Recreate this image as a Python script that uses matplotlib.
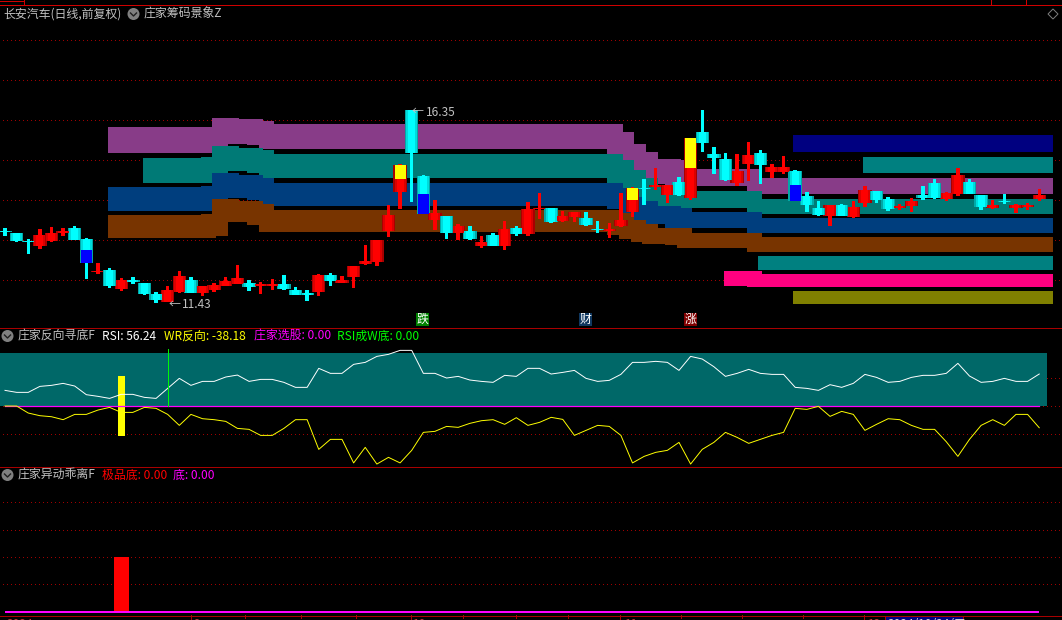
import numpy as np
import matplotlib
matplotlib.use('Agg')
import matplotlib.pyplot as plt
from matplotlib.patches import Circle, Rectangle, Polygon

plt.rcParams['font.family'] = ['Noto Sans CJK SC', 'DejaVu Sans']

# daily candles
opens = [13.25,13.20,13.00,12.87,13.00,13.20,13.33,13.05,12.20,12.25,
	11.77,12.00,11.92,11.64,11.43,11.69,12.00,11.66,11.74,11.84,
	11.90,11.92,11.84,11.84,11.90,11.74,11.66,11.69,12.13,11.92,
	12.07,12.41,12.46,13.25,14.25,16.35,14.66,13.53,13.64,13.20,
	13.25,12.87,13.15,12.87,13.33,13.18,13.82,13.84,13.51,13.61,
	13.59,13.30,13.25,13.38,13.74,14.35,14.38,14.17,14.51,14.10,
	15.79,15.22,15.10,14.48,14.97,15.25,14.76,14.76,14.79,14.15,
	13.84,13.64,13.92,13.61,13.97,14.28,14.07,13.84,13.89,14.17,
	14.48,14.07,14.20,14.51,14.17,13.84,14.02,13.84,13.87,14.07]
closes = [13.23,13.00,12.97,13.15,13.20,13.25,13.02,12.43,12.23,11.84,
	12.00,11.95,11.64,11.49,11.74,12.10,11.66,11.84,11.87,11.97,
	12.05,11.82,11.90,11.90,11.77,11.61,11.61,12.13,11.97,12.00,
	12.36,12.48,13.02,13.66,14.94,15.25,13.69,13.71,13.20,13.38,
	13.05,12.97,12.87,13.30,13.18,13.82,13.84,13.48,13.64,13.74,
	13.41,13.28,13.30,13.53,14.35,14.33,14.43,14.43,14.17,15.63,
	15.51,15.12,14.56,14.79,15.20,14.94,14.89,14.89,14.02,13.92,
	13.66,13.92,13.64,13.87,14.30,14.05,13.82,13.89,14.02,14.10,
	14.10,14.23,14.69,14.20,13.87,13.92,13.99,13.92,13.92,14.17]
highs = [13.33,13.20,13.05,13.30,13.36,13.33,13.38,13.07,12.43,12.31,
	12.05,12.07,11.92,11.69,11.84,12.23,12.07,11.84,11.92,12.07,
	12.38,12.00,11.95,12.02,12.13,11.82,11.74,12.15,12.18,12.10,
	12.36,12.89,13.02,13.92,14.97,16.35,14.69,14.05,13.64,13.43,
	13.38,13.12,13.20,13.51,13.38,13.99,14.23,13.84,13.77,13.74,
	13.74,13.51,13.46,14.23,14.38,14.58,14.87,14.43,14.64,15.63,
	16.35,15.40,15.25,15.22,15.53,15.33,14.97,15.17,14.81,14.25,
	14.02,13.92,13.94,14.02,14.40,14.28,14.12,13.94,14.10,14.40,
	14.58,14.25,14.87,14.58,14.17,14.05,14.20,13.94,13.97,14.33]
lows = [13.12,12.97,12.66,12.79,12.97,13.12,13.02,12.02,12.15,11.79,
	11.72,11.90,11.61,11.41,11.43,11.66,11.66,11.59,11.69,11.84,
	11.90,11.72,11.64,11.74,11.74,11.61,11.46,11.59,11.84,11.92,
	11.79,12.38,12.36,13.10,13.82,13.99,13.69,13.28,13.05,13.02,
	13.02,12.82,12.87,12.77,13.12,13.12,13.56,13.46,13.48,13.48,
	13.38,13.20,13.07,13.36,13.61,13.92,14.30,13.97,14.15,14.05,
	15.28,14.71,14.53,14.40,14.53,14.46,14.61,14.71,14.02,13.74,
	13.64,13.38,13.64,13.59,13.87,13.97,13.77,13.79,13.74,14.05,
	14.07,14.02,14.15,14.20,13.79,13.82,13.94,13.71,13.79,14.02]

# coloured part inside a few of the bodies
blue_idx = [7, 36, 68]
blue_top = [12.77, 14.20, 14.43]
blue_bot = [12.43, 13.69, 14.02]
gold_idx = [34, 54, 59]
gold_top = [14.94, 14.35, 15.63]
gold_bot = [14.58, 14.05, 14.87]

nan = np.nan
# chip bands, one level per candle
purple_top = [nan]*10 + [15.91]*9 + [16.15,16.12,16.12,16.07] + [15.99]*30 + [15.79,15.48,15.28,15.10,15.10,15.07] + [14.84]*6 + [14.61]*25
purple_bot = [nan]*10 + [15.25]*9 + [15.51,15.48,15.48,15.45] + [15.35]*30 + [15.12,14.81,14.61,14.46,14.46,14.40] + [14.40]*6 + [14.20]*25
teal_top = [nan]*13 + [15.12]*5 + [15.15,15.43,15.38,15.38,15.33] + [15.22]*30 + [15.07,14.81,14.61,14.40,14.40,14.28] + [14.28]*6 + [14.07]*25
teal_bot = [nan]*13 + [14.48]*6 + [14.81,14.79,14.79,14.74] + [14.61]*30 + [14.48,14.12,14.02,13.89,13.89,13.84] + [13.84]*6 + [13.69]*25
blue_band_top = [nan]*10 + [14.38]*8 + [14.40,14.74,14.69,14.69,14.61] + [14.48]*30 + [14.35,14.12,14.02,13.89,13.89,13.84] + [13.74]*6 + [13.59]*25
blue_band_bot = [nan]*10 + [13.77]*9 + [14.12,14.10,14.10,14.05] + [13.89]*30 + [13.82,13.53,13.46,13.43,13.43,13.33] + [13.33]*6 + [13.20]*25
brown_top = [nan]*10 + [13.66]*8 + [13.69,14.07,14.02,14.02,13.94] + [13.79]*30 + [13.71,13.53,13.43,13.33,13.33,13.33] + [13.20]*6 + [13.10]*25
brown_bot = [nan]*10 + [13.07]*8 + [13.12,13.48,13.48,13.48,13.41] + [13.23]*30 + [13.15,13.05,12.97,12.92,12.92,12.89] + [12.82]*6 + [12.72]*25

# the flat bands on the right
navy_top = [nan]*69 + [15.71]*21
navy_bot = [nan]*69 + [15.28]*21
cyan2_top = [nan]*75 + [15.15]*15
cyan2_bot = [nan]*75 + [14.74]*15
cyan3_top = [nan]*66 + [12.61]*24
cyan3_bot = [nan]*66 + [12.25]*24
pink_top = [nan]*63 + [12.23]*2 + [12.15]*25
pink_bot = [nan]*63 + [11.84]*2 + [11.82]*25
olive_top = [nan]*69 + [11.72]*21
olive_bot = [nan]*69 + [11.38]*21

price_grid = [18.14, 17.12, 16.09, 15.07, 14.05, 13.02, 12.00]

rsi = [27.5,24.0,24.0,34.5,36.3,39.8,35.1,19.9,17.0,13.4,
	20.5,20.5,15.2,13.4,31.0,48.6,36.3,43.3,43.3,51.0,
	54.4,43.3,46.8,46.8,41.6,32.8,32.8,66.2,57.4,57.4,
	73.2,76.7,87.2,90.8,97.8,97.8,57.4,57.4,49.2,52.1,
	45.7,43.3,41.6,53.9,52.1,66.2,66.2,56.2,59.1,62.6,
	48.6,43.3,45.1,55.6,76.7,76.7,78.5,76.7,62.6,87.2,
	82.6,69.1,52.1,57.4,64.4,57.4,55.6,55.6,32.8,31.0,
	27.5,37.5,32.8,39.8,55.6,50.3,41.6,43.3,50.3,53.9,
	53.9,57.4,75.0,52.7,41.6,43.3,48.6,43.3,43.3,56.24]
wr = [0,0,-12.3,-17.0,-18.8,-24.0,-14.7,-14.7,-7.1,-2.4,
	-11.2,-11.2,-2.4,-4.1,-14.7,-34.0,-14.7,-22.3,-24.0,-27.0,
	-39.3,-41.0,-51.6,-51.6,-39.3,-24.0,-24.0,-76.2,-58.6,-58.6,
	-100,-72.6,-102,-90.2,-100,-77.9,-46.3,-44.5,-35.8,-37.5,
	-30.5,-25.8,-24.0,-32.2,-20.5,-34.0,-28.7,-19.9,-23.5,-51.6,
	-42.8,-34.0,-35.8,-51.6,-100,-88.5,-81.4,-77.9,-63.9,-102,
	-76.2,-63.9,-46.3,-55.1,-65.6,-58.6,-51.6,-46.3,-4.1,-5.9,
	-0.6,-18.2,-9.4,-14.7,-42.8,-32.2,-22.3,-24.0,-34.0,-41.0,
	-41.0,-62.7,-88.5,-58.6,-34.0,-24.0,-34.0,-14.7,-14.7,-38.18]
zone_top = 93
rsi_grid = [50, 0, -50]
rsi_pick_idx = 10
rsi_pick_level = 52.7
green_idx = 14
green_top = 101

dev_bar_idx = 10
dev_bar_value = 1.0
dev_grid = [0.5, 1.0, 1.5, 2.0]

# x pixels of the date axis ticks
major_ticks = [190.6, 411, 620, 864]
minor_ticks = [245, 301, 356, 463, 516, 568, 681, 742, 803]
date_labels = ['2024', '9', '10', '11', '12']
date_label_x = [7, 193, 413, 625, 868]
cursor_date = '2024/10/24/三'

W, H = 1062, 620
GRID = '#a00000'
GREY = '#c0c0c0'
n = len(opens)
x = np.arange(n)
STEP = 11.62  # pixels per candle


def px(w):
	return w / STEP


def add_pane(y0, y1, ylim):
	ax = fig.add_axes([0, 1 - y1 / H, 1, (y1 - y0) / H])
	ax.set_facecolor('black')
	ax.set_xlim(-0.43, 90.96)
	ax.set_ylim(*ylim)
	ax.axis('off')
	return ax


def dotted(ax, levels):
	for v in levels:
		ax.plot([-1, 92], [v, v], color=GRID, lw=0.72, ls=(0, (1, 3)), dash_capstyle='butt', antialiased=False, zorder=1)


def band(ax, top, bot, color, z):
	t, b = np.array(top), np.array(bot)
	ax.bar(x, t - b, bottom=b, width=px(27), color=color, lw=0, zorder=z, antialiased=False)


fig = plt.figure(figsize=(W / 100, H / 100), dpi=100, facecolor='black')

# main pane
ax = add_pane(5, 327, (10.795, 19.038))
dotted(ax, price_grid)
band(ax, purple_top, purple_bot, '#883c88', 2)
band(ax, teal_top, teal_bot, '#007a76', 3)
band(ax, blue_band_top, blue_band_bot, '#003e7e', 4)
band(ax, brown_top, brown_bot, '#783400', 5)
band(ax, navy_top, navy_bot, '#000080', 6)
band(ax, cyan2_top, cyan2_bot, '#008080', 6)
band(ax, cyan3_top, cyan3_bot, '#008080', 6)
band(ax, pink_top, pink_bot, '#ff0080', 6)
band(ax, olive_top, olive_bot, '#808000', 6)

o, c, hi, lo = map(np.array, (opens, closes, highs, lows))
up = c >= o
body_top = np.maximum(o, c)
body_bot = np.minimum(o, c)
shades = {True: ['#a80000', '#dc0000', '#ff0000'], False: ['#00a8a8', '#00dcdc', '#00ffff']}
for flag in (True, False):
	m = up == flag
	ax.bar(x[m], (hi - lo)[m], bottom=lo[m], width=px(3.4), color=shades[flag][2], lw=0, zorder=7, antialiased=False)
	# body is lighter in the middle, 3 layers is close enough to the gradient
	for w, col, z in zip((13.4, 11, 7), shades[flag], (8, 9, 10)):
		ax.bar(x[m], np.maximum((body_top - body_bot)[m], 0.03), bottom=body_bot[m], width=px(w), color=col, lw=0, zorder=z, antialiased=False)
ax.bar(blue_idx, np.array(blue_top) - np.array(blue_bot), bottom=blue_bot, width=px(11), color='#0000ff', lw=0, zorder=11, antialiased=False)
ax.bar(gold_idx, np.array(gold_top) - np.array(gold_bot), bottom=gold_bot, width=px(11), color='#ffff00', lw=0, zorder=11, antialiased=False)

# rsi pane
ax2 = add_pane(328, 466, (-105.4, 137.1))
dotted(ax2, rsi_grid)
ax2.bar(x, [zone_top] * n, width=px(16), color='#006868', lw=0, zorder=2, antialiased=False)
ax2.bar(rsi_pick_idx, 2 * rsi_pick_level, bottom=-rsi_pick_level, width=px(7), color='#ffff00', lw=0, zorder=3, antialiased=False)
ax2.plot(x, [0] * n, color='#ff00ff', lw=0.9, zorder=4)
ax2.plot(x, rsi, color='white', lw=0.7, zorder=5)
ax2.plot(x, wr, color='#ffff00', lw=0.7, zorder=5)
ax2.plot([green_idx, green_idx], [0, green_top], color='#00ff00', lw=0.7, zorder=6)

# deviation pane
ax3 = add_pane(467, 615, (-0.064, 2.65))
dotted(ax3, dev_grid)
dev_values = [0.0] * n
dev_values[dev_bar_idx] = dev_bar_value
ax3.bar(x, dev_values, width=px(15), color='#ff0000', lw=0, zorder=2, antialiased=False)
ax3.plot(x, [0] * n, color='#ff00ff', lw=1.45, solid_capstyle='butt', zorder=3)

# overlay in pixels for borders, headers and badges
ov = fig.add_axes([0, 0, 1, 1], zorder=20)
ov.set_xlim(0, W)
ov.set_ylim(H, 0)
ov.axis('off')
ov.patch.set_alpha(0)

ov.plot([0, W], [4.5, 4.5], color='#d00000', lw=0.72)
ov.plot([0, 23], [0.5, 0.5], color='#d00000', lw=0.72)
for y in (327.5, 466.5, 615.5):
	ov.plot([0, W], [y, y], color='#a80000', lw=0.72)
for tx in (23, 990, 1025, 1061):
	ov.plot([tx + 0.5, tx + 0.5], [0, 4], color='#d00000', lw=0.72)
for tx in major_ticks:
	ov.plot([tx, tx], [615, 620], color='#a80000', lw=0.72)
for tx in minor_ticks:
	ov.plot([tx, tx], [615, 618], color='#a80000', lw=0.72)
for tx, lab in zip(date_label_x, date_labels):
	ov.text(tx, 618.5, lab, color='#c04040', fontsize=8.6, va='top', ha='left', clip_on=True)
ov.add_patch(Rectangle((885, 616), 78, 6, fc='#000080', ec='#a80000', lw=0.72))
ov.text(888, 617.5, cursor_date, color='#e0e0e0', fontsize=8.6, va='top', ha='left', clip_on=True)


def icon(cx, cy):
	ov.add_patch(Circle((cx, cy), 6, fc='#808080', ec='none'))
	ov.plot([cx - 3, cx, cx + 3], [cy - 1, cy + 2, cy - 1], color='#202020', lw=1)


def label(tx, ty, s, col=GREY):
	ov.text(tx, ty, s, color=col, fontsize=8.6, va='center', ha='left')


label(3, 14, '长安汽车(日线,前复权)')
icon(133.5, 14)
label(144, 14, '庄家筹码景象Z')
ov.add_patch(Polygon([(1053, 9), (1058, 14), (1053, 19), (1048, 14)], fc='none', ec='#808080', lw=0.7))

icon(7.5, 336)
label(18, 336, '庄家反向寻底F')
label(102, 336, 'RSI: 56.24', 'white')
label(164, 336, 'WR反向: -38.18', '#ffff00')
label(254, 336, '庄家选股: 0.00', '#ff00ff')
label(337, 336, 'RSI成W底: 0.00', '#00ff00')

icon(7.5, 475)
label(18, 475, '庄家异动乖离F')
label(102, 475, '极品底: 0.00', '#ff0000')
label(173, 475, '底: 0.00', '#ff00ff')

# high and low marks
label(412, 111, '←')
label(426, 112, '16.35')
label(169, 304, '←')
label(182, 304, '11.43')

for bx, s, col in ((416, '跌', '#008000'), (579, '财', '#103860'), (684, '涨', '#800000')):
	ov.add_patch(Rectangle((bx, 313), 13, 13, fc=col, ec='none'))
	ov.text(bx + 6.5, 319.5, s, color='white', fontsize=8.6, va='center', ha='center')

fig.savefig('out.png', dpi=100, facecolor='black')
